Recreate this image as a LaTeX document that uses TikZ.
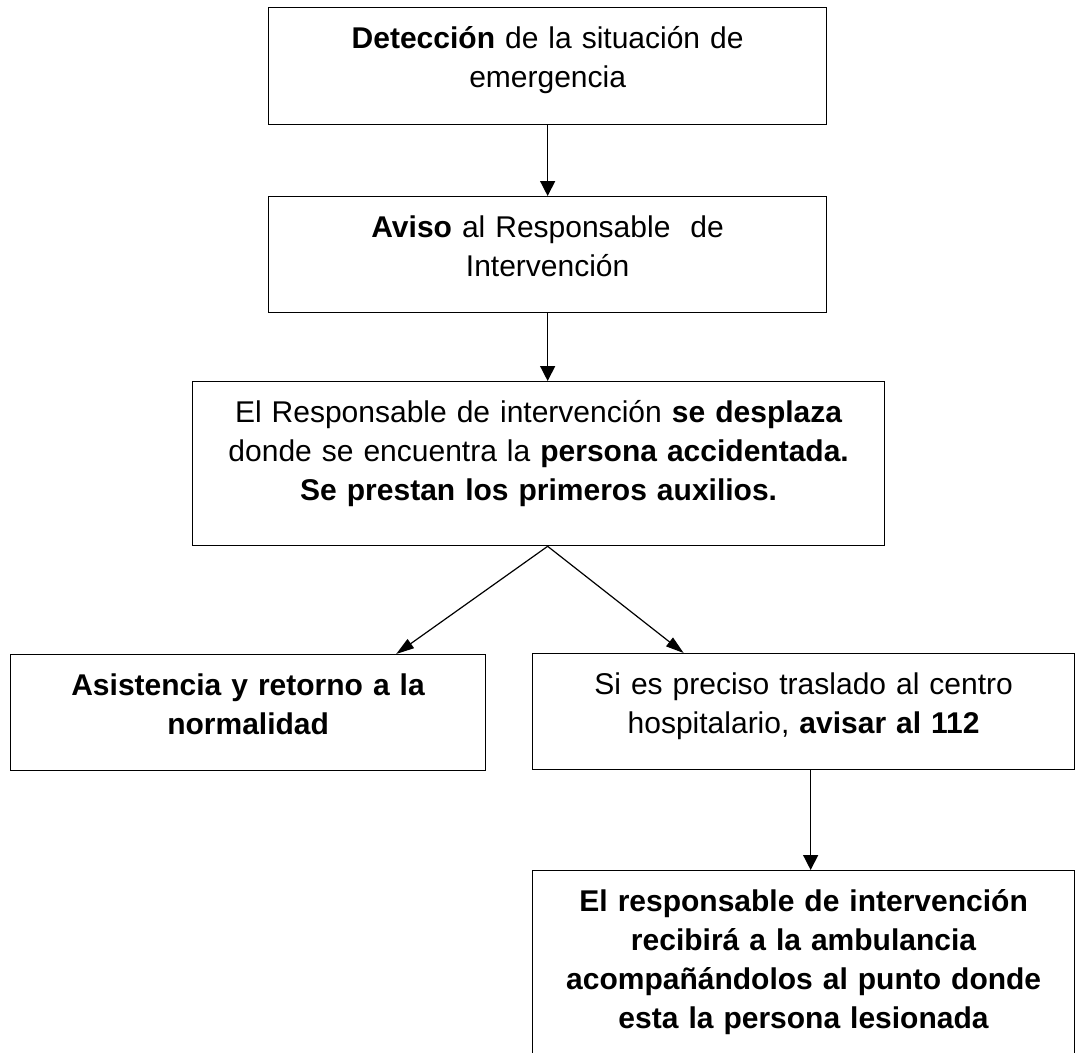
\documentclass[tikz,border=0pt]{standalone}
\usepackage{fontspec}
\setmainfont{Liberation Sans}
\usetikzlibrary{arrows.meta}
\tikzset{
  box/.style={draw=black, line width=1.3pt, inner sep=0pt, align=center,
    text height=41pt, anchor=north west,
    font=\fontsize{30}{39}\selectfont},
  arr/.style={line width=1.4pt, -{Triangle[length=15pt,width=15pt]}},
  diag/.style={line width=1.2pt, -{Triangle[length=18pt,width=11pt]}}
}
\begin{document}
\begin{tikzpicture}[x=1pt,y=-1pt]
\clip (0,0) rectangle (1076,1052);
\fill[white] (0,0) rectangle (1076,1052);
\node[box, text width=558pt, text depth=76pt] (b1) at (268,7)
  {\textbf{Detección} de la situación de\\emergencia};
\node[box, text width=558pt, text depth=75pt] (b2) at (268,196)
  {\textbf{Aviso} al Responsable\ \ de\\Intervención};
\node[box, text width=692pt, text depth=123pt] (b3) at (192,381)
  {El Responsable de intervención \textbf{se desplaza}\\donde se encuentra la \textbf{persona accidentada.}\\\textbf{Se prestan los primeros auxilios.}};
\node[box, text width=475pt, text depth=75pt] (b4) at (10,654)
  {\textbf{Asistencia y retorno a la}\\\textbf{normalidad}};
\node[box, text width=542pt, text depth=75pt] (b5) at (532,653)
  {Si es preciso traslado al centro\\hospitalario, \textbf{avisar al 112}};
\node[box, text width=542pt, text depth=160pt] (b6) at (532,870)
  {\textbf{El responsable de intervención}\\\textbf{recibirá a la ambulancia}\\\textbf{acompañándolos al punto donde}\\\textbf{esta la persona lesionada}};
\draw[arr] (b1.south) -- (b2.north);
\draw[arr] (b2.south) -- (b2.south |- b3.north);
\coordinate (apex) at (b2.south |- b3.south);
\draw[diag] (apex) -- ([xshift=148pt]b4.north);
\draw[diag] (apex) -- ([xshift=-120pt]b5.north);
\draw[arr] ([xshift=7pt]b5.south) -- ([xshift=7pt]b6.north);
\end{tikzpicture}
\end{document}
